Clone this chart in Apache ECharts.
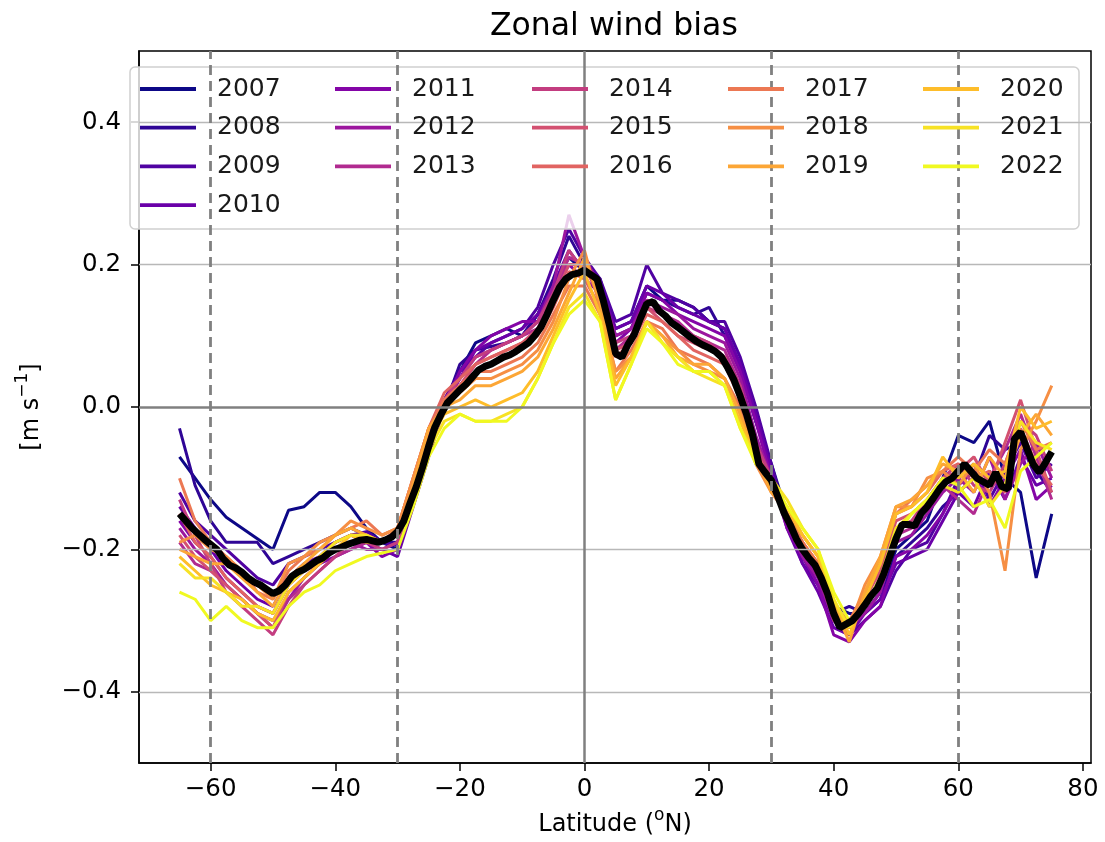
<!DOCTYPE html>
<html>
<head>
<meta charset="utf-8">
<script src="https://cdn.jsdelivr.net/npm/echarts@6/dist/echarts.min.js"></script>
<style>html,body{margin:0;padding:0;background:#fff}#c{width:1105px;height:842px}</style>
</head>
<body>
<div id="c"></div>
<script>
const years = ['2007','2008','2009','2010','2011','2012','2013','2014','2015','2016','2017','2018','2019','2020','2021','2022'];
const yearColors = ['#0d0887','#2f0596','#5002a2','#6a00a8','#8405a7','#9c179e','#b12a90','#c33d80','#d35171','#e16462','#ec7853','#f68f44','#fca636','#febd2a','#f7e225','#f0f921'];

const latYear = [-65,-62.5,-60,-57.5,-55,-52.5,-50,-47.5,-45,-42.5,-40,-37.5,-35,-32.5,-30,
  -27.5,-25,-22.5,-20,-17.5,-15,-12.5,-10,-7.5,-5,-2.5,0,
  2.5,5,7.5,10,12.5,15,17.5,20,22.5,25,27.5,30,
  32.5,35,37.5,40,42.5,45,47.5,50,52.5,55,57.5,
  60,62.5,65,67.5,70,72.5,75];

const bias2007 = [-0.07,-0.10,-0.13,-0.155,-0.17,-0.185,-0.20,-0.145,-0.14,-0.12,-0.12,-0.14,-0.17,-0.19,-0.20,
  -0.12,-0.04,0.01,0.05,0.09,0.10,0.11,0.10,0.13,0.17,0.21,0.19,
  0.17,0.11,0.12,0.17,0.15,0.15,0.14,0.12,0.11,0.06,-0.02,-0.08,
  -0.15,-0.20,-0.24,-0.28,-0.29,-0.29,-0.26,-0.20,-0.18,-0.16,-0.10,
  -0.04,-0.05,-0.02,-0.10,-0.12,-0.24,-0.15];
const bias2008 = [-0.03,-0.11,-0.16,-0.19,-0.19,-0.19,-0.22,-0.21,-0.20,-0.19,-0.18,-0.17,-0.18,-0.19,-0.19,
  -0.13,-0.06,0.00,0.06,0.08,0.085,0.09,0.10,0.13,0.18,0.24,0.20,
  0.18,0.10,0.11,0.16,0.15,0.14,0.13,0.14,0.10,0.05,-0.02,-0.09,
  -0.16,-0.21,-0.25,-0.29,-0.28,-0.29,-0.27,-0.21,-0.19,-0.17,-0.14,
  -0.12,-0.10,-0.04,-0.06,-0.05,-0.09,-0.12];
const bias2009 = [-0.12,-0.16,-0.18,-0.20,-0.22,-0.24,-0.25,-0.22,-0.21,-0.20,-0.19,-0.18,-0.175,-0.19,-0.195,
  -0.13,-0.05,0.01,0.05,0.07,0.09,0.10,0.11,0.14,0.20,0.25,0.21,
  0.18,0.12,0.13,0.20,0.16,0.15,0.14,0.12,0.12,0.07,0.00,-0.08,
  -0.16,-0.22,-0.25,-0.30,-0.32,-0.30,-0.28,-0.23,-0.20,-0.19,-0.15,
  -0.10,-0.08,-0.13,-0.09,-0.05,-0.10,-0.08];
const bias2010 = [-0.14,-0.17,-0.20,-0.23,-0.25,-0.27,-0.28,-0.24,-0.22,-0.21,-0.19,-0.18,-0.19,-0.20,-0.21,
  -0.14,-0.07,0.00,0.04,0.08,0.09,0.10,0.11,0.13,0.17,0.22,0.19,
  0.17,0.11,0.12,0.17,0.16,0.14,0.13,0.12,0.11,0.06,-0.01,-0.09,
  -0.17,-0.22,-0.26,-0.31,-0.32,-0.29,-0.27,-0.22,-0.21,-0.20,-0.16,
  -0.12,-0.14,-0.09,-0.13,-0.07,-0.11,-0.10];
const bias2011 = [-0.16,-0.19,-0.21,-0.24,-0.26,-0.28,-0.29,-0.25,-0.23,-0.22,-0.21,-0.20,-0.19,-0.21,-0.20,
  -0.13,-0.06,0.00,0.05,0.08,0.10,0.11,0.12,0.12,0.16,0.20,0.18,
  0.16,0.09,0.11,0.16,0.15,0.13,0.12,0.11,0.10,0.05,-0.02,-0.10,
  -0.17,-0.21,-0.25,-0.32,-0.33,-0.30,-0.28,-0.21,-0.20,-0.18,-0.15,
  -0.11,-0.09,-0.14,-0.10,-0.06,-0.13,-0.11];
const bias2012 = [-0.17,-0.20,-0.22,-0.25,-0.27,-0.29,-0.30,-0.27,-0.24,-0.22,-0.20,-0.19,-0.20,-0.20,-0.19,
  -0.12,-0.05,0.01,0.04,0.07,0.08,0.09,0.10,0.12,0.17,0.27,0.21,
  0.17,0.10,0.11,0.15,0.14,0.13,0.11,0.10,0.09,0.04,-0.04,-0.10,
  -0.16,-0.21,-0.24,-0.30,-0.31,-0.29,-0.26,-0.19,-0.18,-0.15,-0.12,
  -0.10,-0.12,-0.07,-0.13,-0.08,-0.05,-0.10];
const bias2013 = [-0.19,-0.22,-0.23,-0.25,-0.27,-0.29,-0.31,-0.27,-0.25,-0.23,-0.21,-0.20,-0.19,-0.19,-0.18,
  -0.12,-0.05,0.00,0.03,0.06,0.08,0.09,0.10,0.11,0.16,0.21,0.20,
  0.16,0.08,0.10,0.15,0.13,0.12,0.10,0.09,0.08,0.03,-0.05,-0.11,
  -0.16,-0.20,-0.23,-0.29,-0.30,-0.28,-0.25,-0.18,-0.17,-0.13,-0.11,
  -0.13,-0.15,-0.10,-0.06,-0.01,-0.07,-0.13];
const bias2014 = [-0.13,-0.18,-0.22,-0.26,-0.28,-0.30,-0.32,-0.28,-0.25,-0.23,-0.21,-0.19,-0.19,-0.20,-0.19,
  -0.11,-0.04,0.01,0.04,0.07,0.08,0.09,0.10,0.12,0.16,0.22,0.19,
  0.17,0.09,0.10,0.14,0.13,0.11,0.10,0.09,0.07,0.03,-0.05,-0.10,
  -0.15,-0.19,-0.23,-0.30,-0.31,-0.28,-0.24,-0.17,-0.16,-0.13,-0.10,
  -0.08,-0.11,-0.12,-0.08,-0.02,-0.04,-0.09];
const bias2015 = [-0.18,-0.21,-0.23,-0.25,-0.27,-0.29,-0.31,-0.26,-0.24,-0.22,-0.20,-0.19,-0.18,-0.19,-0.18,
  -0.11,-0.03,0.01,0.03,0.06,0.07,0.08,0.09,0.11,0.15,0.20,0.20,
  0.15,0.08,0.09,0.14,0.12,0.10,0.09,0.08,0.07,0.02,-0.06,-0.11,
  -0.16,-0.19,-0.22,-0.29,-0.31,-0.27,-0.23,-0.16,-0.15,-0.13,-0.10,
  -0.09,-0.07,-0.11,-0.05,0.01,-0.06,-0.12];
const bias2016 = [-0.15,-0.19,-0.21,-0.24,-0.26,-0.28,-0.29,-0.25,-0.23,-0.21,-0.19,-0.18,-0.18,-0.19,-0.17,
  -0.10,-0.03,0.02,0.04,0.06,0.07,0.08,0.09,0.10,0.14,0.19,0.18,
  0.14,0.07,0.09,0.13,0.12,0.10,0.08,0.07,0.06,0.01,-0.06,-0.11,
  -0.16,-0.19,-0.22,-0.28,-0.31,-0.27,-0.22,-0.15,-0.14,-0.12,-0.09,
  -0.08,-0.10,-0.09,-0.12,-0.03,-0.08,-0.11];
const bias2017 = [-0.10,-0.16,-0.19,-0.21,-0.23,-0.26,-0.27,-0.23,-0.21,-0.20,-0.18,-0.17,-0.16,-0.18,-0.17,
  -0.10,-0.03,0.01,0.03,0.05,0.05,0.06,0.07,0.09,0.13,0.17,0.17,
  0.13,0.05,0.08,0.12,0.11,0.08,0.07,0.06,0.04,0.00,-0.07,-0.11,
  -0.15,-0.19,-0.22,-0.28,-0.30,-0.26,-0.22,-0.15,-0.13,-0.11,-0.09,
  -0.07,-0.09,-0.06,-0.08,-0.02,-0.06,-0.05];
const bias2018 = [-0.19,-0.18,-0.20,-0.21,-0.23,-0.25,-0.27,-0.22,-0.21,-0.19,-0.18,-0.16,-0.17,-0.18,-0.17,
  -0.10,-0.03,0.00,0.02,0.04,0.04,0.05,0.06,0.08,0.12,0.18,0.22,
  0.14,0.05,0.07,0.12,0.10,0.08,0.06,0.05,0.04,-0.01,-0.08,-0.12,
  -0.15,-0.18,-0.21,-0.28,-0.31,-0.25,-0.21,-0.14,-0.14,-0.10,-0.09,
  -0.11,-0.08,-0.12,-0.23,-0.06,-0.02,0.03];
const bias2019 = [-0.20,-0.21,-0.22,-0.22,-0.24,-0.26,-0.28,-0.24,-0.22,-0.20,-0.18,-0.17,-0.18,-0.19,-0.18,
  -0.11,-0.03,0.00,0.01,0.03,0.03,0.04,0.05,0.07,0.11,0.16,0.21,
  0.15,0.04,0.07,0.12,0.10,0.07,0.06,0.06,0.04,-0.01,-0.07,-0.12,
  -0.14,-0.18,-0.21,-0.28,-0.33,-0.26,-0.21,-0.14,-0.13,-0.11,-0.08,
  -0.09,-0.12,-0.07,-0.10,-0.04,-0.01,-0.04];
const bias2020 = [-0.21,-0.23,-0.25,-0.26,-0.27,-0.29,-0.30,-0.26,-0.24,-0.22,-0.20,-0.18,-0.19,-0.19,-0.18,
  -0.12,-0.05,-0.01,0.00,0.01,0.00,0.01,0.02,0.05,0.10,0.15,0.19,
  0.13,0.03,0.07,0.12,0.09,0.07,0.05,0.05,0.03,-0.02,-0.07,-0.11,
  -0.14,-0.18,-0.21,-0.27,-0.32,-0.27,-0.22,-0.15,-0.14,-0.12,-0.07,
  -0.10,-0.08,-0.10,-0.09,0.00,-0.03,-0.02];
const bias2021 = [-0.22,-0.24,-0.24,-0.26,-0.28,-0.28,-0.29,-0.25,-0.23,-0.21,-0.19,-0.18,-0.18,-0.19,-0.18,
  -0.12,-0.06,-0.02,-0.01,-0.02,-0.02,-0.01,0.00,0.04,0.09,0.14,0.16,
  0.12,0.01,0.06,0.12,0.09,0.07,0.05,0.04,0.03,-0.03,-0.07,-0.10,
  -0.13,-0.17,-0.20,-0.27,-0.31,-0.28,-0.24,-0.17,-0.15,-0.13,-0.11,
  -0.12,-0.10,-0.14,-0.11,-0.02,-0.05,-0.06];
const bias2022 = [-0.26,-0.27,-0.30,-0.28,-0.30,-0.31,-0.31,-0.28,-0.26,-0.25,-0.23,-0.22,-0.21,-0.205,-0.20,
  -0.14,-0.07,-0.03,-0.01,-0.02,-0.02,-0.02,0.00,0.04,0.09,0.13,0.15,
  0.12,0.01,0.06,0.11,0.09,0.06,0.05,0.05,0.03,-0.03,-0.08,-0.10,
  -0.14,-0.17,-0.20,-0.26,-0.30,-0.28,-0.24,-0.18,-0.15,-0.13,-0.10,
  -0.11,-0.14,-0.13,-0.17,-0.09,-0.07,-0.05];

const latMean = [-65,-64,-63,-62,-61,-60,-59,-58,-57,-56,-55,-54,-53,-52,-51,-50,-49,-48,-47,-46,
  -45,-44,-43,-42,-41,-40,-39,-38,-37,-36,-35,-34,-33,-32,-31,-30,-29,-28,-27,-26,
  -25,-24,-23,-22,-21,-20,-19,-18,-17,-16,-15,-14,-13,-12,-11,-10,-9,-8,-7,-6,
  -5,-4,-3,-2,-1,0,1,2,3,4,5,6,7,8,9,10,11,12,13,14,
  15,16,17,18,19,20,21,22,23,24,25,26,27,28,29,30,31,32,33,34,
  35,36,37,38,39,40,41,42,43,44,45,46,47,48,49,50,51,52,53,54,
  55,56,57,58,59,60,61,62,63,64,65,66,67,68,69,70,71,72,73,74,75];
const meanBias = [-0.150,-0.160,-0.170,-0.178,-0.186,-0.193,-0.200,-0.213,-0.222,-0.226,-0.232,-0.240,-0.246,-0.250,-0.256,-0.262,-0.258,-0.250,-0.238,-0.232,
  -0.228,-0.222,-0.216,-0.212,-0.205,-0.200,-0.197,-0.193,-0.190,-0.187,-0.186,-0.188,-0.190,-0.187,-0.183,-0.175,-0.160,-0.135,-0.112,-0.085,
  -0.055,-0.028,-0.010,0.006,0.015,0.024,0.032,0.042,0.052,0.057,0.060,0.065,0.070,0.073,0.078,0.084,0.090,0.100,0.112,0.130,
  0.150,0.168,0.180,0.186,0.188,0.192,0.186,0.180,0.150,0.115,0.075,0.070,0.088,0.102,0.125,0.145,0.148,0.135,0.128,0.118,
  0.112,0.105,0.098,0.092,0.087,0.083,0.078,0.070,0.055,0.038,0.015,-0.010,-0.040,-0.080,-0.092,-0.103,-0.125,-0.148,-0.165,-0.185,
  -0.200,-0.212,-0.222,-0.240,-0.262,-0.290,-0.310,-0.305,-0.300,-0.290,-0.278,-0.265,-0.255,-0.235,-0.210,-0.185,-0.165,-0.165,-0.167,-0.150,
  -0.140,-0.128,-0.115,-0.105,-0.100,-0.090,-0.080,-0.090,-0.100,-0.105,-0.110,-0.092,-0.112,-0.115,-0.045,-0.035,-0.058,-0.080,-0.092,-0.078,-0.063];

const yearBias = [bias2007,bias2008,bias2009,bias2010,bias2011,bias2012,bias2013,bias2014,bias2015,bias2016,bias2017,bias2018,bias2019,bias2020,bias2021,bias2022];

const xTicks = [-60,-40,-20,0,20,40,60,80];
const yTicks = [-0.4,-0.2,0,0.2,0.4];
const dashedLats = [-60,-30,30,60];
const legendColumns = [[0,1,2,3],[4,5,6],[7,8,9],[10,11,12],[13,14,15]];

const FONT = 'DejaVu Sans';
const minus = s => s.replace('-', '\u2212');

const chart = echarts.init(document.getElementById('c'), null, {renderer: 'canvas'});

const gridLines = [];
yTicks.forEach(v => {
  if (v === 0) gridLines.push({yAxis: v, lineStyle: {color: '#808080', width: 2.5, type: 'solid'}});
  else gridLines.push({yAxis: v, lineStyle: {color: '#b8b8b8', width: 1.3, type: 'solid'}});
});
gridLines.push({xAxis: 0, lineStyle: {color: '#808080', width: 2.5, type: 'solid'}});
dashedLats.forEach(v => gridLines.push({xAxis: v, lineStyle: {color: '#808080', width: 2.8, type: [10, 6]}}));

const series = [{
  type: 'line', data: [], z: 1, silent: true,
  markLine: {symbol: ['none','none'], silent: true, animation: false, label: {show: false}, data: gridLines}
}];
years.forEach((y, k) => {
  series.push({
    name: y, type: 'line', z: 2, silent: true,
    showSymbol: false, symbol: 'none',
    color: yearColors[k],
    lineStyle: {width: 3, color: yearColors[k]},
    itemStyle: {color: yearColors[k]},
    data: latYear.map((x, i) => [x, yearBias[k][i]])
  });
});
series.push({
  name: 'mean', type: 'line', z: 3, silent: true, showSymbol: false, symbol: 'none',
  lineStyle: {width: 7, color: '#000'}, itemStyle: {color: '#000'},
  data: latMean.map((x, i) => [x, meanBias[i]])
});

const colLeft = [140, 335, 532, 728, 923];
const legends = legendColumns.map((col, c) => ({
  orient: 'vertical', left: colLeft[c], top: 76.5, padding: 0,
  itemWidth: 56, itemHeight: 3.8, itemGap: 13.7, icon: 'rect',
  selectedMode: false, z: 6,
  data: col.map(i => years[i]),
  textStyle: {fontFamily: FONT, fontSize: 25, lineHeight: 25, color: '#1a1a1a', padding: [0, 0, 0, 16]}
}));

chart.setOption({
  animation: false,
  textStyle: {fontFamily: FONT},
  title: {
    text: 'Zonal wind bias', left: 490, top: 11, padding: 0,
    textStyle: {fontFamily: FONT, fontSize: 31.5, fontWeight: 'normal', color: '#000'}
  },
  grid: {left: 139, right: 14, top: 51, bottom: 79, show: true, borderColor: '#000', borderWidth: 1.5, backgroundColor: 'transparent'},
  legend: legends,
  graphic: [{
    type: 'rect', z: 4, silent: true,
    shape: {x: 130, y: 67, width: 949, height: 162, r: 5},
    style: {fill: 'rgba(255,255,255,0.8)', stroke: '#d0d0d0', lineWidth: 1.5}
  }],
  xAxis: {
    type: 'value', min: -71.5, max: 81.3,
    axisLine: {show: true, onZero: false, lineStyle: {color: '#000', width: 1.5}},
    axisTick: {show: true, customValues: xTicks, length: 8, lineStyle: {color: '#000', width: 1.5}},
    axisLabel: {customValues: xTicks, margin: 14, fontSize: 24.5, color: '#000', fontFamily: FONT,
      formatter: v => minus(String(v))},
    splitLine: {show: false},
    name: '{n|Latitude (}{s|o}{n|N)}', nameLocation: 'middle', nameGap: 44,
    nameTextStyle: {rich: {
      n: {fontSize: 24, fontFamily: FONT, color: '#000', lineHeight: 30, verticalAlign: 'bottom'},
      s: {fontSize: 17, fontFamily: FONT, color: '#000', lineHeight: 17, verticalAlign: 'top'}
    }}
  },
  yAxis: {
    type: 'value', min: -0.5, max: 0.5,
    axisLine: {show: true, onZero: false, lineStyle: {color: '#000', width: 1.5}},
    axisTick: {show: true, customValues: yTicks, length: 8, lineStyle: {color: '#000', width: 1.5}},
    axisLabel: {customValues: yTicks, margin: 18, fontSize: 24.5, color: '#000', fontFamily: FONT,
      formatter: v => minus(v.toFixed(1))},
    splitLine: {show: false},
    name: '{n|[m s}{s|\u22121}{n|]}', nameLocation: 'middle', nameGap: 95,
    nameTextStyle: {rich: {
      n: {fontSize: 24, fontFamily: FONT, color: '#000', lineHeight: 30, verticalAlign: 'bottom'},
      s: {fontSize: 17, fontFamily: FONT, color: '#000', lineHeight: 17, verticalAlign: 'top'}
    }}
  },
  series: series
});
</script>
</body>
</html>
